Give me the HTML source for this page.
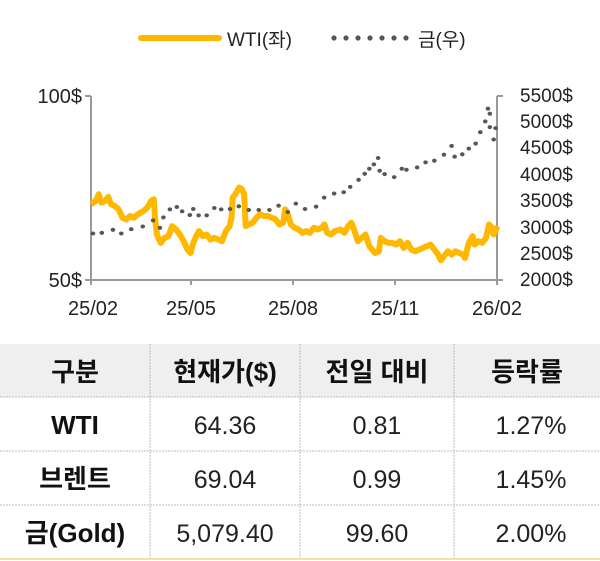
<!DOCTYPE html>
<html><head><meta charset="utf-8"><style>
body{margin:0;width:600px;height:561px;background:#fff;overflow:hidden;font-family:"Liberation Sans","Noto Sans CJK KR",sans-serif;}
</style></head><body>
<svg width="600" height="561" style="position:absolute;left:0;top:0" font-family="Liberation Sans, Noto Sans CJK KR, sans-serif">
<line x1="141" y1="38" x2="219" y2="38" stroke="#FFB800" stroke-width="6" stroke-linecap="round"/>
<text x="227" y="46" font-size="19" fill="#222">WTI(좌)</text>
<g fill="#5d564e"><circle cx="334" cy="38" r="2.6"/><circle cx="346" cy="38" r="2.6"/><circle cx="358" cy="38" r="2.6"/><circle cx="370" cy="38" r="2.6"/><circle cx="382" cy="38" r="2.6"/><circle cx="394" cy="38" r="2.6"/><circle cx="406" cy="38" r="2.6"/></g>
<text x="418" y="46" font-size="19" fill="#222">금(우)</text>
<g stroke="#999" stroke-width="2" fill="none">
<line x1="91" y1="96" x2="91" y2="285"/><line x1="497" y1="96" x2="497" y2="285"/>
<line x1="85" y1="280" x2="503" y2="280"/><line x1="85" y1="96" x2="91" y2="96"/>
<line x1="497" y1="96" x2="503" y2="96"/>
<line x1="191" y1="280" x2="191" y2="285"/><line x1="293" y1="280" x2="293" y2="285"/><line x1="395" y1="280" x2="395" y2="285"/>
</g>
<g font-size="20" fill="#222" text-anchor="end"><text x="82" y="103">100$</text><text x="82" y="287">50$</text></g>
<g font-size="19" fill="#222"><text x="520" y="102">5500$</text><text x="520" y="128">5000$</text><text x="520" y="154">4500$</text><text x="520" y="181">4000$</text><text x="520" y="207">3500$</text><text x="520" y="234">3000$</text><text x="520" y="260">2500$</text><text x="520" y="286">2000$</text></g>
<g font-size="20" fill="#222" text-anchor="middle"><text x="93" y="315">25/02</text><text x="191" y="315">25/05</text><text x="293" y="315">25/08</text><text x="395" y="315">25/11</text><text x="497" y="315">26/02</text></g>
<g transform="translate(0,60) scale(0.3827,0.3356)">
<path fill="none" stroke="#FFB800" stroke-width="6" vector-effect="non-scaling-stroke" stroke-linejoin="round" d="M238,430 L250,420 258,400 265,425 275,420 283,408 290,430 300,435 310,445 320,470 330,475 340,465 350,470 360,460 375,450 385,440 395,420 402,415 405,470 410,520 420,545 430,530 440,525 450,495 460,505 470,520 480,540 490,565 498,575 505,545 515,520 520,510 530,525 540,520 550,535 560,530 570,535 580,540 590,510 600,495 605,470 608,410 615,400 625,380 632,385 638,400 642,495 650,490 660,485 670,470 680,460 690,465 700,465 710,470 720,475 730,490 740,485 745,445 752,460 760,490 770,500 780,505 790,515 800,510 810,515 820,500 830,505 840,500 848,490 855,515 865,520 875,510 890,505 900,515 910,495 918,485 925,505 935,540 945,530 955,520 965,555 980,575 990,570 995,530 1005,540 1015,545 1025,545 1035,550 1045,540 1055,560 1065,545 1075,565 1085,570 1095,565 1105,560 1115,555 1125,550 1135,565 1145,580 1152,597 1160,585 1170,570 1180,580 1190,570 1200,575 1210,580 1215,590 1225,545 1235,525 1240,550 1250,540 1260,545 1270,530 1278,490 1285,500 1290,520 1300,495"/>
<g fill="#5d564e">
<circle cx="243" cy="517" r="6"/><circle cx="266" cy="515" r="6"/><circle cx="295" cy="506" r="6"/><circle cx="317" cy="517" r="6"/><circle cx="343" cy="504" r="6"/><circle cx="373" cy="496" r="6"/><circle cx="400" cy="478" r="6"/><circle cx="418" cy="500" r="6"/><circle cx="427" cy="469" r="6"/><circle cx="444" cy="445" r="6"/><circle cx="462" cy="438" r="6"/><circle cx="476" cy="451" r="6"/><circle cx="496" cy="462" r="6"/><circle cx="505" cy="444" r="6"/><circle cx="519" cy="463" r="6"/><circle cx="540" cy="463" r="6"/><circle cx="560" cy="441" r="6"/><circle cx="578" cy="445" r="6"/><circle cx="601" cy="444" r="6"/><circle cx="624" cy="436" r="6"/><circle cx="650" cy="447" r="6"/><circle cx="676" cy="447" r="6"/><circle cx="704" cy="447" r="6"/><circle cx="728" cy="434" r="6"/><circle cx="752" cy="453" r="6"/><circle cx="773" cy="428" r="6"/><circle cx="797" cy="444" r="6"/><circle cx="826" cy="437" r="6"/><circle cx="847" cy="410" r="6"/><circle cx="873" cy="398" r="6"/><circle cx="898" cy="394" r="6"/><circle cx="915" cy="378" r="6"/><circle cx="937" cy="357" r="6"/><circle cx="953" cy="339" r="6"/><circle cx="965" cy="324" r="6"/><circle cx="977" cy="311" r="6"/><circle cx="988" cy="292" r="6"/><circle cx="992" cy="330" r="6"/><circle cx="1005" cy="340" r="6"/><circle cx="1030" cy="349" r="6"/><circle cx="1050" cy="324" r="6"/><circle cx="1062" cy="327" r="6"/><circle cx="1090" cy="320" r="6"/><circle cx="1112" cy="305" r="6"/><circle cx="1135" cy="300" r="6"/><circle cx="1160" cy="282" r="6"/><circle cx="1180" cy="256" r="6"/><circle cx="1188" cy="288" r="6"/><circle cx="1208" cy="281" r="6"/><circle cx="1225" cy="264" r="6"/><circle cx="1243" cy="249" r="6"/><circle cx="1255" cy="215" r="6"/><circle cx="1268" cy="183" r="6"/><circle cx="1275" cy="145" r="6"/><circle cx="1280" cy="160" r="6"/><circle cx="1280" cy="200" r="6"/><circle cx="1290" cy="237" r="6"/><circle cx="1295" cy="203" r="6"/>
</g></g>
<rect x="0" y="344" width="600" height="53" fill="#efefef"/>
<g stroke="#bbb" stroke-width="1" stroke-dasharray="2,1">
<line x1="0" y1="397" x2="600" y2="397"/><line x1="0" y1="451" x2="600" y2="451"/><line x1="0" y1="505" x2="600" y2="505"/>
<line x1="150" y1="344" x2="150" y2="558"/><line x1="300" y1="344" x2="300" y2="558"/><line x1="454" y1="344" x2="454" y2="558"/>
</g>
<line x1="0" y1="559" x2="600" y2="559" stroke="#f3dfa8" stroke-width="2"/>
<g font-size="26" fill="#111" text-anchor="middle" font-weight="bold">
<text x="75" y="381">구분</text><text x="225" y="381">현재가($)</text><text x="377" y="381">전일 대비</text><text x="527" y="381">등락률</text>
<text x="75" y="434">WTI</text><text x="75" y="488">브렌트</text><text x="75" y="542">금(Gold)</text>
</g>
<g font-size="25" fill="#222" text-anchor="middle">
<text x="225" y="434">64.36</text><text x="377" y="434">0.81</text><text x="531" y="434">1.27%</text>
<text x="225" y="488">69.04</text><text x="377" y="488">0.99</text><text x="531" y="488">1.45%</text>
<text x="225" y="542">5,079.40</text><text x="377" y="542">99.60</text><text x="531" y="542">2.00%</text>
</g>
</svg>
</body></html>
